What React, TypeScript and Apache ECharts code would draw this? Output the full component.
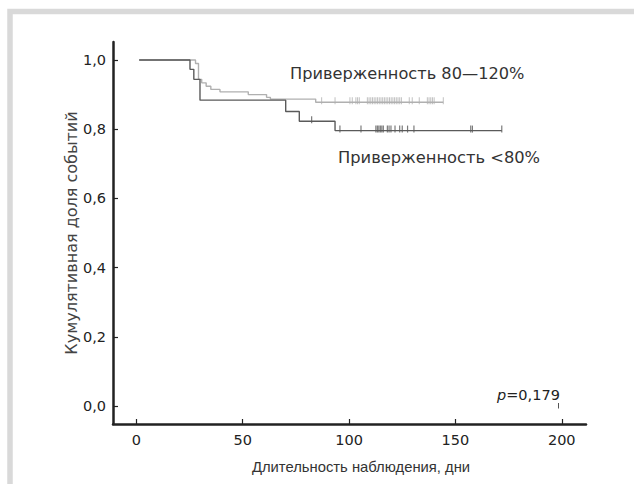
import React, { useEffect, useRef } from "react";
import * as echarts from "echarts";

// Kaplan–Meier style step data: [day, cumulative share]
const adherentSteps: [number, number][] = [
  [1.3, 1.0], [27.8, 0.99], [29.2, 0.944], [30.7, 0.934], [32.8, 0.924],
  [35.0, 0.915], [39.3, 0.908], [52.6, 0.9], [61.2, 0.892], [63.0, 0.887],
  [84.3, 0.878], [144.3, 0.878],
];
const lowSteps: [number, number][] = [
  [1.3, 1.0], [25.2, 0.973], [27.0, 0.944], [29.9, 0.884], [70.2, 0.851],
  [76.6, 0.823], [93.4, 0.796], [171.8, 0.796],
];
const adherentCensored: number[] = [
  87.1, 93.4, 100.4, 101.5, 103.2, 104, 104.8, 108.6, 109.4, 110.2, 111, 111.8,
  112.6, 113.4, 114.2, 115, 115.8, 116.6, 117.4, 118.2, 119, 119.8, 120.6,
  121.4, 122.2, 123, 123.8, 124.6, 128.3, 129.7, 133, 136.8, 137.6, 138.4,
  139.2, 140, 144.3,
];
const lowCensored: number[] = [
  82.4, 95.7, 105.6, 112.6, 113.3, 114, 114.7, 115.4, 116.1, 118, 118.8, 119.7,
  121.6, 123.8, 125, 127.5, 130.5, 157.2, 158, 171.8,
];
const xTicks: number[] = [0, 50, 100, 150, 200];
const yTicks: number[] = [0, 0.2, 0.4, 0.6, 0.8, 1.0];
const labelAdherent = "Приверженность 80—120%";
const labelLow = "Приверженность <80%";
const xName = "Длительность наблюдения, дни";
const yName = "Кумулятивная доля событий";

function valueAt(steps: [number, number][], t: number): number {
  let v = steps[0][1];
  for (const [x, y] of steps) {
    if (x <= t) v = y;
  }
  return v;
}

const LIB = "'Liberation Sans', Arial, sans-serif";
const DJV = "'DejaVu Sans', sans-serif";

export default function App() {
  const ref = useRef<HTMLDivElement>(null);
  useEffect(() => {
    if (!ref.current) return;
    const chart = echarts.init(ref.current, undefined, { renderer: "svg" });
    const axisLine = { show: true, onZero: false, lineStyle: { color: "#222", width: 2.5 } };
    const tick = { show: true, inside: true, length: 5, lineStyle: { color: "#222", width: 1.2 } };
    chart.setOption({
      animation: false,
      backgroundColor: "#fff",
      textStyle: { fontFamily: DJV },
      grid: { left: 113, right: 48, top: 42, bottom: 60 },
      xAxis: {
        type: "value",
        min: -11,
        max: 211.4,
        axisLine,
        splitLine: { show: false },
        axisTick: { ...tick, customValues: xTicks },
        axisLabel: {
          customValues: xTicks,
          color: "#222",
          fontSize: 14.5,
          fontFamily: DJV,
          margin: 8,
        },
      },
      yAxis: {
        type: "value",
        min: -0.052,
        max: 1.052,
        axisLine,
        splitLine: { show: false },
        axisTick: { ...tick, customValues: yTicks },
        axisLabel: {
          customValues: yTicks,
          color: "#222",
          fontSize: 14.5,
          fontFamily: DJV,
          margin: 7,
          formatter: (v: number) => v.toFixed(1).replace(".", ","),
        },
      },
      series: [
        {
          type: "line",
          step: "end",
          data: adherentSteps,
          showSymbol: false,
          lineStyle: { color: "#b0b0b0", width: 1.4 },
          z: 2,
        },
        {
          type: "line",
          step: "end",
          data: lowSteps,
          showSymbol: false,
          lineStyle: { color: "#5a5a5a", width: 1.4 },
          z: 3,
        },
        {
          type: "scatter",
          data: adherentCensored.map((t) => [t, valueAt(adherentSteps, t)]),
          symbol: "rect",
          symbolSize: [1, 7],
          symbolOffset: [0, -1.5],
          itemStyle: { color: "#b0b0b0" },
          z: 2,
        },
        {
          type: "scatter",
          data: lowCensored.map((t) => [t, valueAt(lowSteps, t)]),
          symbol: "rect",
          symbolSize: [1.2, 7],
          symbolOffset: [0, -1.5],
          itemStyle: { color: "#5a5a5a" },
          z: 3,
        },
      ],
      graphic: [
        {
          type: "rect",
          shape: { x: 10, y: 11.5, width: 800, height: 700 },
          style: { fill: "none", stroke: "#d9d9d9", lineWidth: 5.5 },
          silent: true,
        },
        {
          type: "text",
          x: 290,
          y: 73,
          style: { text: labelAdherent, font: `16.2px ${DJV}`, fill: "#333", verticalAlign: "middle" },
        },
        {
          type: "text",
          x: 338,
          y: 157,
          style: { text: labelLow, font: `16.3px ${DJV}`, fill: "#333", verticalAlign: "middle" },
        },
        {
          type: "text",
          x: 361,
          y: 467,
          style: { text: xName, font: `14.8px ${LIB}`, fill: "#333", align: "center", verticalAlign: "middle" },
        },
        {
          type: "text",
          x: 71,
          y: 233,
          rotation: Math.PI / 2,
          style: { text: yName, font: `16px ${DJV}`, fill: "#444", align: "center", verticalAlign: "middle" },
        },
        {
          type: "text",
          x: 497,
          y: 395,
          style: {
            text: "{i|p}=0,179",
            font: `14.5px ${DJV}`,
            fill: "#222",
            verticalAlign: "middle",
            rich: {
              i: { fontStyle: "italic", fontSize: 14.5, fontFamily: DJV, fill: "#222" },
            },
          },
        },
        {
          type: "line",
          shape: { x1: 558.5, y1: 403, x2: 558.5, y2: 408.5 },
          style: { stroke: "#555", lineWidth: 1 },
        },
      ],
    });
    return () => chart.dispose();
  }, []);
  return (
    <div
      ref={ref}
      style={{ position: "fixed", left: 0, top: 0, width: 634, height: 484 }}
    />
  );
}
